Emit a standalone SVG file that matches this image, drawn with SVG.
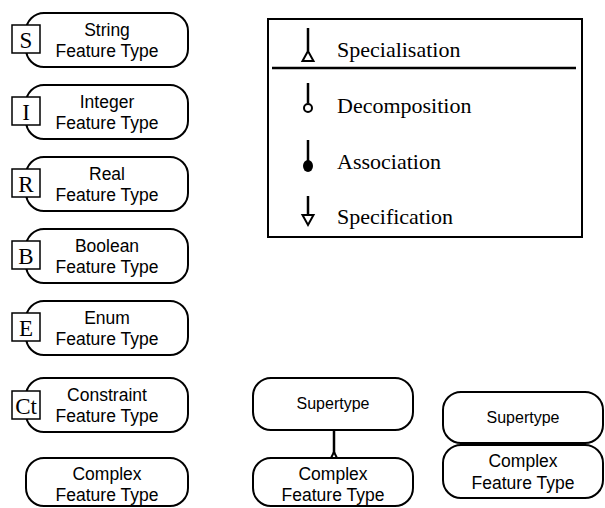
<svg xmlns="http://www.w3.org/2000/svg" width="605" height="508" viewBox="0 0 605 508">
<style>
.node{fill:#fff;stroke:#000;stroke-width:2}
.tag{fill:#fff;stroke:#000;stroke-width:1.5}
.t{font-family:"Liberation Sans",Arial,sans-serif;font-size:17.5px;text-anchor:middle;fill:#000}
.ts{font-family:"Liberation Sans",Arial,sans-serif;font-size:16px;text-anchor:middle;fill:#000}
.l{font-family:"Liberation Serif","Times New Roman",serif;font-size:23px;text-anchor:middle;fill:#000}
.lg{font-family:"Liberation Serif","Times New Roman",serif;font-size:22px;fill:#000}
.ln{stroke:#000;stroke-width:2.5;fill:none}
.open{fill:#fff;stroke:#000;stroke-width:2}
</style>
<rect width="605" height="508" fill="#fff"/>

<g id="string">
<rect class="node" x="26" y="13" width="162" height="54" rx="18"/>
<rect class="tag" x="12" y="25" width="28" height="28"/>
<text class="l" x="26" y="48">S</text>
<text class="t" x="107" y="36">String</text>
<text class="t" x="107" y="57">Feature Type</text>
</g>
<g id="integer">
<rect class="node" x="26" y="85" width="162" height="54" rx="18"/>
<rect class="tag" x="12" y="97" width="28" height="28"/>
<text class="l" x="26" y="120">I</text>
<text class="t" x="107" y="108">Integer</text>
<text class="t" x="107" y="129">Feature Type</text>
</g>
<g id="real">
<rect class="node" x="26" y="157" width="162" height="54" rx="18"/>
<rect class="tag" x="12" y="169" width="28" height="28"/>
<text class="l" x="26" y="192">R</text>
<text class="t" x="107" y="180">Real</text>
<text class="t" x="107" y="201">Feature Type</text>
</g>
<g id="boolean">
<rect class="node" x="26" y="229" width="162" height="54" rx="18"/>
<rect class="tag" x="12" y="241" width="28" height="28"/>
<text class="l" x="26" y="264">B</text>
<text class="t" x="107" y="252">Boolean</text>
<text class="t" x="107" y="273">Feature Type</text>
</g>
<g id="enum">
<rect class="node" x="26" y="301" width="162" height="54" rx="18"/>
<rect class="tag" x="12" y="313" width="28" height="28"/>
<text class="l" x="26" y="336">E</text>
<text class="t" x="107" y="324">Enum</text>
<text class="t" x="107" y="345">Feature Type</text>
</g>
<g id="constraint">
<rect class="node" x="26" y="378" width="162" height="54" rx="18"/>
<rect class="tag" x="12" y="391" width="28" height="28"/>
<text class="l" x="26" y="414">Ct</text>
<text class="t" x="107" y="401">Constraint</text>
<text class="t" x="107" y="422">Feature Type</text>
</g>
<g id="complex">
<rect class="node" x="26" y="458" width="162" height="48" rx="18"/>
<text class="t" x="107" y="480">Complex</text>
<text class="t" x="107" y="501">Feature Type</text>
</g>

<g id="legend">
<rect x="268" y="19" width="314" height="218" fill="#fff" stroke="#000" stroke-width="2"/>
<line class="ln" x1="272" y1="68" x2="576" y2="68"/>
<line class="ln" x1="308" y1="28" x2="308" y2="51"/>
<polygon class="open" points="308,51 302.5,61 313.5,61"/>
<text class="lg" x="337" y="57">Specialisation</text>
<line class="ln" x1="308" y1="83" x2="308" y2="103"/>
<circle class="open" cx="308" cy="108" r="4"/>
<text class="lg" x="337" y="113">Decomposition</text>
<line class="ln" x1="308" y1="140" x2="308" y2="162"/>
<ellipse cx="308" cy="166" rx="5" ry="6" fill="#000"/>
<text class="lg" x="337" y="169">Association</text>
<line class="ln" x1="308" y1="196" x2="308" y2="215"/>
<polygon class="open" points="302.5,215 313.5,215 308,225"/>
<text class="lg" x="337" y="224">Specification</text>
</g>

<g id="supertype1">
<rect class="node" x="253" y="378" width="160" height="52" rx="18"/>
<text class="ts" x="333" y="409">Supertype</text>
</g>
<g id="complex1">
<rect class="node" x="253" y="458" width="160" height="48" rx="18"/>
<text class="t" x="333" y="480">Complex</text>
<text class="t" x="333" y="501">Feature Type</text>
</g>
<g id="supertype2">
<rect class="node" x="443" y="392" width="160" height="51" rx="18"/>
<text class="ts" x="523" y="423">Supertype</text>
</g>
<g id="complex2">
<rect class="node" x="443" y="445" width="160" height="53" rx="18"/>
<text class="t" x="523" y="467">Complex</text>
<text class="t" x="523" y="489">Feature Type</text>
</g>

<g id="connectors">
<line class="ln" x1="334" y1="430" x2="334" y2="453"/>
<polygon class="open" points="334,452 331,458 337,458" stroke-width="1.5"/>
</g>
</svg>
